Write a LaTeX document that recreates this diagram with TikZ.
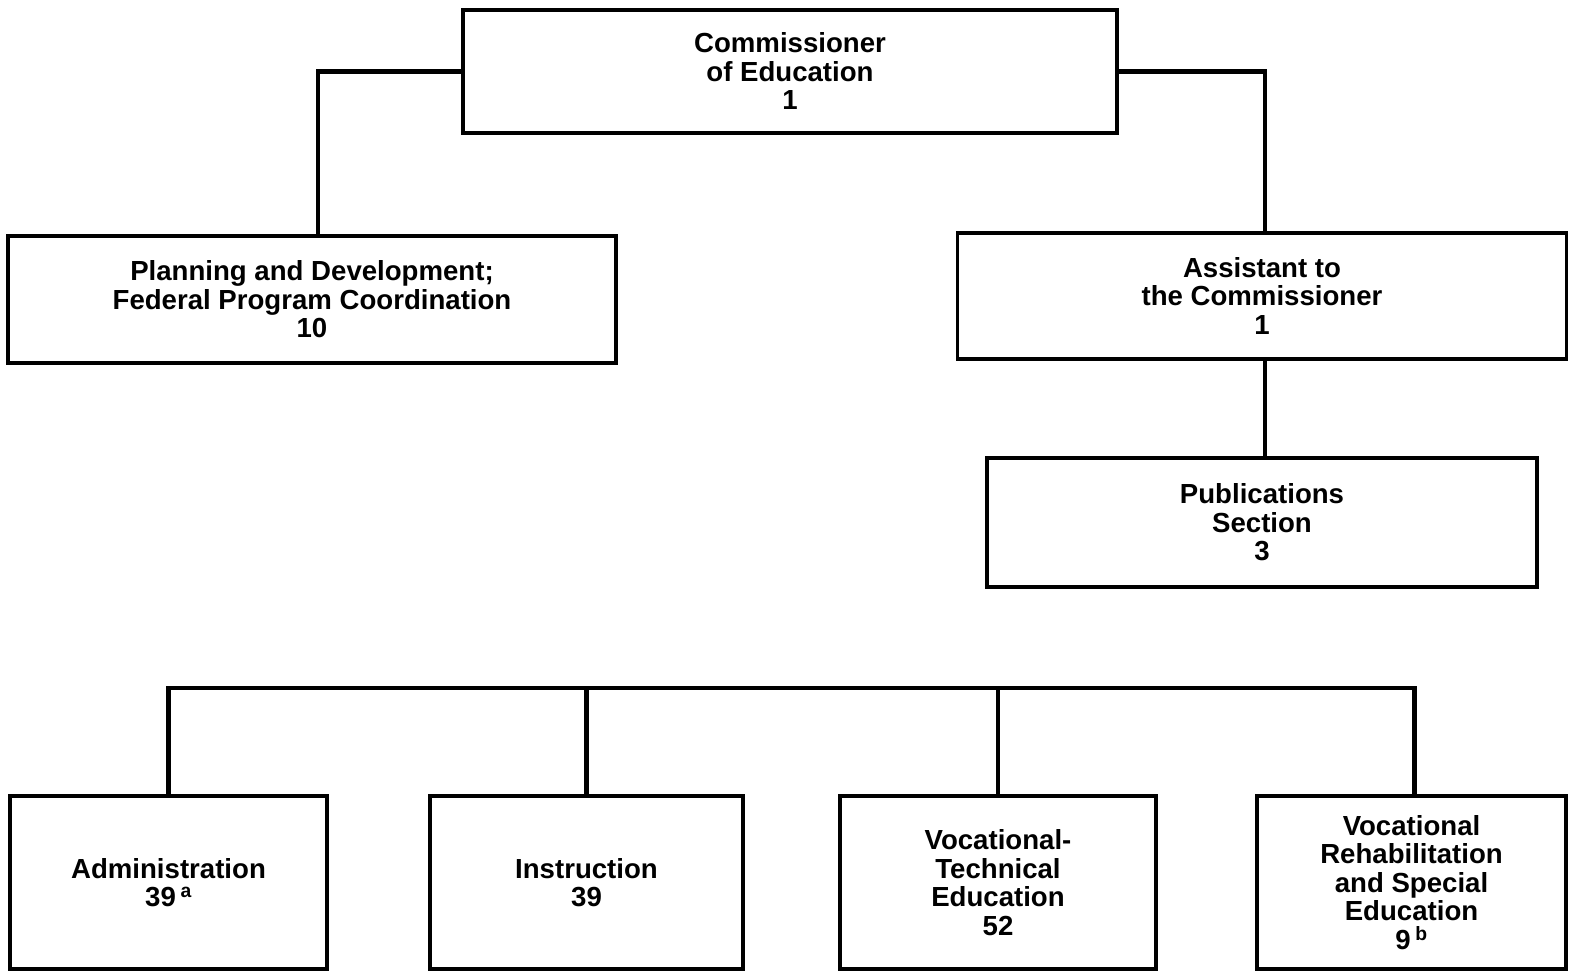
\documentclass[tikz,border=0pt]{standalone}
\usepackage{fontspec}
\setmainfont{Liberation Sans}
\begin{document}
\begin{tikzpicture}[x=1pt,y=-1pt,
  unit/.style={draw, line width=3.5pt, align=center, inner sep=0pt,
    font=\fontsize{27.6}{28.5}\selectfont\bfseries},
  link/.style={line width=4.5pt, line join=miter}]
\useasboundingbox (0,0) rectangle (1569,973);

% top level
\node[unit, minimum width=654pt, minimum height=123pt] (comm) at (790,71.5)
  {Commissioner\\of Education\\1};

% staff units
\node[unit, minimum width=608pt, minimum height=127pt] (plan) at (312,299.5)
  {Planning and Development;\\Federal Program Coordination\\10};
\node[unit, minimum width=609pt, minimum height=126pt] (asst) at (1262,296)
  {Assistant to\\the Commissioner\\1};
\node[unit, minimum width=550pt, minimum height=129pt] (pub) at (1262,522.5)
  {Publications\\Section\\3};

% divisions
\node[unit, minimum width=317pt, minimum height=173pt] (adm) at (168.5,882.5)
  {Administration\\39\,\textsuperscript{a}};
\node[unit, minimum width=313pt, minimum height=173pt] (ins) at (586.5,882.5)
  {Instruction\\39};
\node[unit, minimum width=316pt, minimum height=173pt] (voc) at (998,882.5)
  {Vocational-\\Technical\\Education\\52};
\node[unit, minimum width=309pt, minimum height=173pt] (reh) at (1411.5,882.5)
  {Vocational\\Rehabilitation\\and Special\\Education\\9\,\textsuperscript{b}};

% connectors
\draw[link] (comm.west) -| ([xshift=6pt]plan.north);
\draw[link] (comm.east) -| ([xshift=3pt]asst.north);
\draw[link] ([xshift=3pt]asst.south) -- ([xshift=3pt]pub.north);

\coordinate (bus) at (0,688);
\draw[link] (adm.north) -- (adm.north |- bus) -- ([xshift=3pt]reh.north |- bus) -- ([xshift=3pt]reh.north);
\draw[link] (ins.north) -- (ins.north |- bus);
\draw[link] (voc.north) -- (voc.north |- bus);
\end{tikzpicture}
\end{document}
